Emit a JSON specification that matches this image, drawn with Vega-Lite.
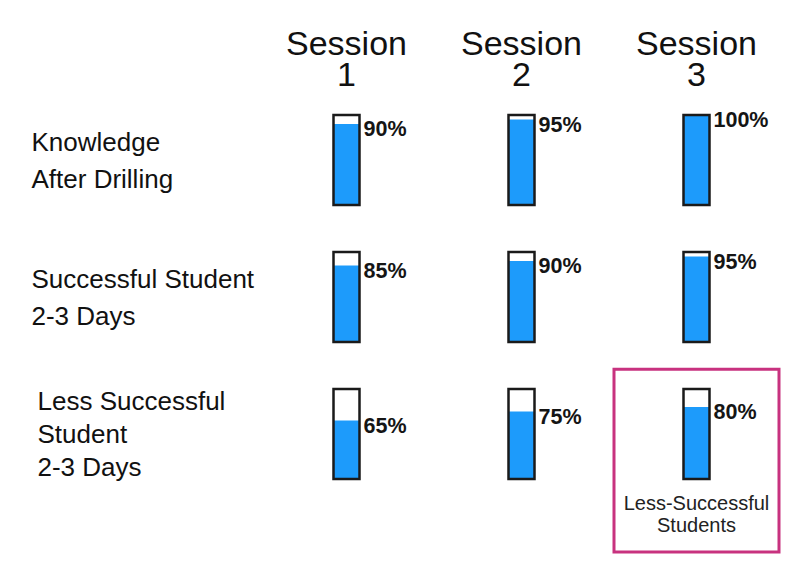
{
  "$schema": "https://vega.github.io/schema/vega-lite/v6.json",
  "padding": {"left": 31, "top": 28, "right": 5, "bottom": 5},
  "background": "white",
  "bounds": "flush",
  "data": {
    "values": [
      {"category": "Knowledge After Drilling", "session": "Session 1", "pct": 90},
      {"category": "Knowledge After Drilling", "session": "Session 2", "pct": 95},
      {"category": "Knowledge After Drilling", "session": "Session 3", "pct": 100},
      {"category": "Successful Student 2-3 Days", "session": "Session 1", "pct": 85},
      {"category": "Successful Student 2-3 Days", "session": "Session 2", "pct": 90},
      {"category": "Successful Student 2-3 Days", "session": "Session 3", "pct": 95},
      {"category": "Less Successful Student 2-3 Days", "session": "Session 1", "pct": 65},
      {"category": "Less Successful Student 2-3 Days", "session": "Session 2", "pct": 75},
      {"category": "Less Successful Student 2-3 Days", "session": "Session 3", "pct": 80}
    ]
  },
  "transform": [
    {"calculate": "datum.pct + '%'", "as": "label"},
    {"calculate": "datum.category == 'Knowledge After Drilling' ? ['Knowledge', ' After Drilling'] : datum.category == 'Successful Student 2-3 Days' ? ['Successful Student', '2-3 Days'] : ['Less Successful', 'Student', '2-3 Days']", "as": "lines"}
  ],
  "facet": {
    "row": {
      "field": "category",
      "type": "nominal",
      "title": null,
      "sort": ["Knowledge After Drilling", "Successful Student 2-3 Days", "Less Successful Student 2-3 Days"],
      "header": {"labels": false}
    },
    "column": {
      "field": "session",
      "type": "nominal",
      "title": null,
      "header": {
        "labelFontSize": 34,
        "labelLineHeight": 31,
        "labelPadding": 22,
        "labelExpr": "['Session', replace(datum.value, 'Session ', '')]"
      }
    }
  },
  "spacing": {"row": 47, "column": 10},
  "resolve": {"scale": {"x": "independent"}},
  "spec": {
    "width": 165,
    "height": 90,
    "encoding": {
      "x": {"field": "session", "type": "nominal", "axis": null, "scale": {"paddingInner": 0, "paddingOuter": 0}}
    },
    "layer": [
      {
        "mark": {"type": "bar", "width": 26, "fill": "white", "strokeWidth": 0},
        "encoding": {
          "y": {"datum": 100, "type": "quantitative", "scale": {"domain": [0, 100], "nice": false}, "axis": null},
          "y2": {"datum": 0}
        }
      },
      {
        "mark": {"type": "bar", "width": 26, "fill": "#1d9bfb", "strokeWidth": 0},
        "encoding": {
          "y": {"field": "pct", "type": "quantitative"},
          "y2": {"datum": 0}
        }
      },
      {
        "mark": {"type": "bar", "width": 26, "fill": null, "fillOpacity": 0, "stroke": "#1a1a1a", "strokeWidth": 2.5},
        "encoding": {
          "y": {"datum": 100, "type": "quantitative"},
          "y2": {"datum": 0}
        }
      },
      {
        "mark": {"type": "text", "align": "left", "baseline": "middle", "dx": 17, "dy": 6, "fontSize": 21.5, "fontWeight": "bold", "font": "Liberation Sans", "color": "#151515"},
        "encoding": {
          "y": {"field": "pct", "type": "quantitative"},
          "text": {"field": "label"}
        }
      },
      {
        "transform": [{"filter": "datum.session == 'Session 1' && datum.category != 'Less Successful Student 2-3 Days'"}],
        "mark": {"type": "text", "align": "left", "baseline": "middle", "dx": -315, "fontSize": 26, "lineHeight": 37, "font": "Liberation Sans", "color": "#111"},
        "encoding": {
          "y": {"datum": 69, "type": "quantitative"},
          "text": {"field": "lines"}
        }
      },
      {
        "transform": [{"filter": "datum.session == 'Session 1' && datum.category == 'Less Successful Student 2-3 Days'"}],
        "mark": {"type": "text", "align": "left", "baseline": "middle", "dx": -309, "fontSize": 26, "lineHeight": 33, "font": "Liberation Sans", "color": "#111"},
        "encoding": {
          "y": {"datum": 86, "type": "quantitative"},
          "text": {"field": "lines"}
        }
      },
      {
        "transform": [{"filter": "datum.session == 'Session 3' && datum.category == 'Less Successful Student 2-3 Days'"}],
        "mark": {"type": "rect", "fill": null, "fillOpacity": 0, "stroke": "#c8327f", "strokeWidth": 3},
        "encoding": {
          "y": {"datum": 122, "type": "quantitative"},
          "y2": {"datum": -81}
        }
      },
      {
        "transform": [{"filter": "datum.session == 'Session 3' && datum.category == 'Less Successful Student 2-3 Days'"}],
        "mark": {"type": "text", "text": ["Less-Successful", "Students"], "align": "center", "baseline": "top", "dy": 15, "lineHeight": 22, "fontSize": 20, "font": "Liberation Sans", "color": "#222"},
        "encoding": {
          "y": {"datum": 0, "type": "quantitative"}
        }
      }
    ]
  },
  "config": {
    "font": "Liberation Sans",
    "view": {"stroke": null},
    "header": {"labelFont": "Liberation Sans", "labelColor": "#111"}
  }
}
